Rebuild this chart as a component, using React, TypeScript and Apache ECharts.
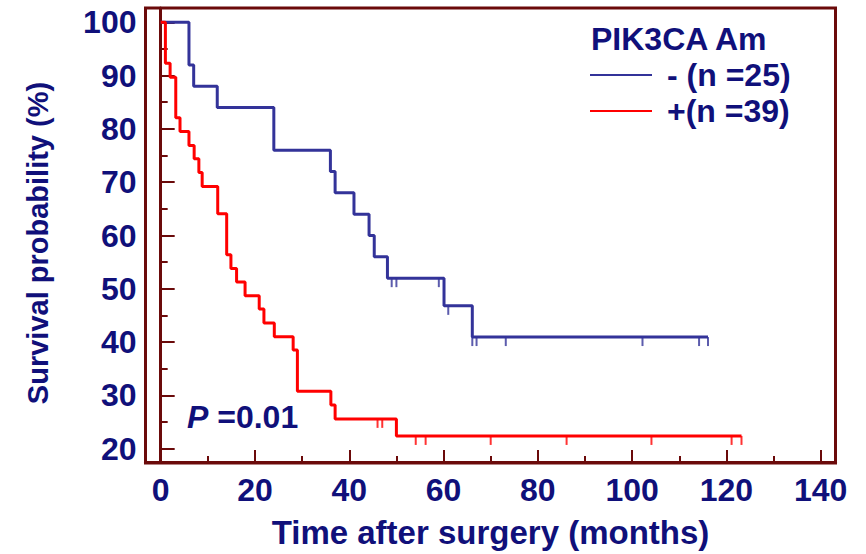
import React, { useEffect, useRef } from 'react';
import * as echarts from 'echarts';

// ---- Data ----
const seriesNames = ['- (n =25)', '+(n =39)'];
const legendTitle = 'PIK3CA Am';
const pValueText = '=0.01';

// PIK3CA Am negative (n = 25): Kaplan-Meier step points [months, survival %]
const blueTimes = [0, 6, 7, 12, 24, 36, 37, 41, 44.2, 45.3, 48.1, 60.1, 66.1, 116.1];
const blueSurv = [100, 92, 88, 84, 76, 72, 68, 64, 60, 56, 52, 46.8, 40.95, 40.95];
const blueCensorTimes = [49, 50, 59, 61, 66.1, 67, 73.2, 102.2, 114.2, 116.1];
const blueCensorSurv = [52, 52, 52, 46.8, 40.95, 40.95, 40.95, 40.95, 40.95, 40.95];

// PIK3CA Am positive (n = 39)
const redTimes = [0, 1, 2, 3.2, 4.1, 6, 7.1, 8.1, 8.8, 12.1, 14, 14.9, 16.1, 17.9, 20.9, 21.9, 24.1, 28.1, 29, 36.1, 37, 50, 123.2];
const redSurv = [100, 92.3, 89.7, 82.1, 79.5, 76.9, 74.4, 71.8, 69.2, 64.1, 56.4, 53.8, 51.3, 48.7, 46.2, 43.6, 41.0, 38.5, 30.8, 28.2, 25.6, 22.4, 22.4];
const redCensorTimes = [46, 47, 54.1, 56.2, 70, 86.1, 104.1, 121.1, 123.2];
const redCensorSurv = [25.6, 25.6, 22.4, 22.4, 22.4, 22.4, 22.4, 22.4, 22.4];

// Axis ranges: the plot frame sits a little outside the 0–140 / 20–100 tick span
const xMin = -3.22, xMax = 143.14;
const yMin = 17.51, yMax = 102.68;
const xMajorTicks = [0, 20, 40, 60, 80, 100, 120, 140];
const xMinorTicks = [10, 30, 50, 70, 90, 110, 130];
const yMajorTicks = [20, 30, 40, 50, 60, 70, 80, 90, 100];
const yMinorTicks = [25, 35, 45, 55, 65, 75, 85, 95];

// ---- Styles ----
const FONT = "'Liberation Sans', Arial, Helvetica, sans-serif";
const NAVY = '#10107a';
const FRAME = '#6b0a0a';
const BLUE = '#333399';
const RED = '#ff0000';

const zip = (a: number[], b: number[]) => a.map((v, i) => [v, b[i]]);

export default function App() {
  const ref = useRef<HTMLDivElement>(null);
  useEffect(() => {
    const chart = echarts.init(ref.current!, null, { renderer: 'svg' });
    const textBase = { color: NAVY, fontWeight: 'bold' as const, fontFamily: FONT };
    const tickLine = { color: FRAME, width: 2 };
    chart.setOption({
      animation: false,
      backgroundColor: '#ffffff',
      grid: { left: 145.5, right: 30.5, top: 8, bottom: 91 },
      title: {
        text: legendTitle,
        left: 591,
        top: 23,
        padding: 0,
        textStyle: { ...textBase, fontSize: 32 },
      },
      legend: {
        data: seriesNames,
        orient: 'vertical',
        left: 590,
        top: 59,
        padding: 0,
        itemGap: 4,
        itemWidth: 62,
        itemHeight: 2,
        icon: 'rect',
        selectedMode: false,
        textStyle: { ...textBase, fontSize: 32, padding: [0, 0, 0, 10] },
      },
      xAxis: [
        {
          type: 'value',
          position: 'bottom',
          min: xMin,
          max: xMax,
          axisLine: { show: true, lineStyle: { color: FRAME, width: 3 } },
          axisTick: { show: true, inside: true, length: 12, customValues: xMajorTicks, lineStyle: tickLine },
          splitLine: { show: false },
          axisLabel: { ...textBase, fontSize: 32, margin: 12, customValues: xMajorTicks },
          name: 'Time after surgery (months)',
          nameLocation: 'middle',
          nameGap: 54,
          nameTextStyle: { ...textBase, fontSize: 33 },
        },
        {
          type: 'value',
          position: 'bottom',
          min: xMin,
          max: xMax,
          axisLine: { show: false },
          axisTick: { show: true, inside: true, length: 6, customValues: xMinorTicks, lineStyle: tickLine },
          splitLine: { show: false },
          axisLabel: { show: false },
        },
      ],
      yAxis: [
        {
          type: 'value',
          position: 'left',
          min: yMin,
          max: yMax,
          axisLine: { show: true, lineStyle: { color: FRAME, width: 3 } },
          axisTick: { show: true, inside: true, length: 14, customValues: yMajorTicks, lineStyle: tickLine },
          splitLine: { show: false },
          axisLabel: { ...textBase, fontSize: 32, margin: 9, customValues: yMajorTicks },
          name: 'Survival probability (%)',
          nameLocation: 'middle',
          nameGap: 93,
          nameTextStyle: { ...textBase, fontSize: 29, padding: [0, 16, 0, 0] },
        },
        {
          type: 'value',
          position: 'left',
          min: yMin,
          max: yMax,
          axisLine: { show: false },
          axisTick: { show: true, inside: true, length: 7, customValues: yMinorTicks, lineStyle: tickLine },
          splitLine: { show: false },
          axisLabel: { show: false },
        },
      ],
      graphic: [
        {
          type: 'rect',
          shape: { x: 145.5, y: 8, width: 690, height: 455 },
          style: { fill: 'none', stroke: FRAME, lineWidth: 3 },
          z: 10,
        },
        {
          type: 'text',
          left: 187,
          top: 401,
          style: {
            text: '{i|P} ' + pValueText,
            fill: NAVY,
            fontSize: 32,
            fontWeight: 'bold',
            fontFamily: FONT,
            rich: {
              i: { fontStyle: 'italic', fontWeight: 'bold', fontSize: 32, fontFamily: FONT, fill: NAVY },
            },
          },
        },
      ],
      series: [
        {
          name: seriesNames[0],
          type: 'line',
          step: 'end',
          showSymbol: false,
          symbol: 'none',
          color: BLUE,
          lineStyle: { color: BLUE, width: 3 },
          data: zip(blueTimes, blueSurv),
          z: 2,
        },
        {
          name: seriesNames[1],
          type: 'line',
          step: 'end',
          showSymbol: false,
          symbol: 'none',
          color: RED,
          lineStyle: { color: RED, width: 3 },
          data: zip(redTimes, redSurv),
          z: 3,
        },
        {
          name: 'censor-neg',
          type: 'scatter',
          symbol: 'rect',
          symbolSize: [2, 9],
          symbolOffset: [0, 4.5],
          itemStyle: { color: BLUE },
          data: zip(blueCensorTimes, blueCensorSurv),
          z: 2,
        },
        {
          name: 'censor-pos',
          type: 'scatter',
          symbol: 'rect',
          symbolSize: [2, 9],
          symbolOffset: [0, 4.5],
          itemStyle: { color: RED },
          data: zip(redCensorTimes, redCensorSurv),
          z: 3,
        },
      ],
    });
    return () => chart.dispose();
  }, []);
  return (
    <div
      ref={ref}
      style={{ position: 'fixed', left: 0, top: 0, width: 866, height: 554, background: '#fff' }}
    />
  );
}
